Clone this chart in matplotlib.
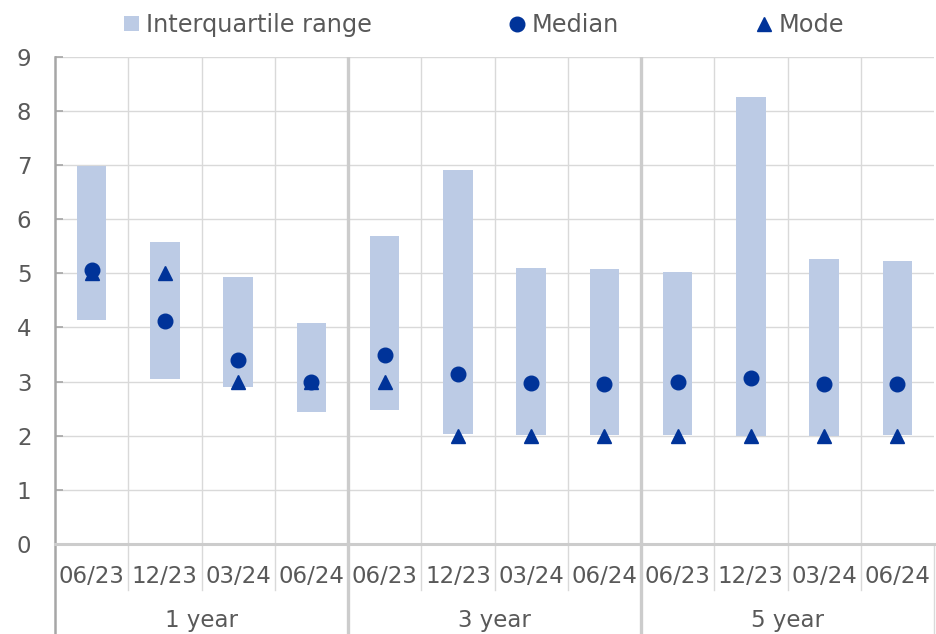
import matplotlib
matplotlib.use("Agg")
import matplotlib.pyplot as plt
import matplotlib.transforms as mtransforms
from matplotlib.lines import Line2D
import numpy as np

# ---- data ----
groups = ["1 year", "3 year", "5 year"]
periods = ["06/23", "12/23", "03/24", "06/24"]
categories = [p for g in groups for p in periods]
iqr_low = [4.14, 3.04, 2.90, 2.44, 2.47, 2.04, 2.02, 2.02, 2.02, 2.00, 2.00, 2.02]
iqr_high = [6.98, 5.58, 4.94, 4.08, 5.69, 6.91, 5.09, 5.07, 5.02, 8.26, 5.26, 5.22]
median = [5.06, 4.11, 3.40, 3.00, 3.49, 3.14, 2.97, 2.95, 3.00, 3.07, 2.95, 2.95]
mode = [5.0, 5.0, 3.0, 3.0, 3.0, 2.0, 2.0, 2.0, 2.0, 2.0, 2.0, 2.0]
y_ticks = list(range(0, 10))

# ---- style ----
bar_color = "#bccbe5"
mark_color = "#003399"
text_color = "#595959"
grid_color = "#d9d9d9"
sep_color = "#cccccc"
spine_color = "#a6a6a6"
fs = 16.5

plt.rcParams["font.family"] = ["DejaVu Sans"]

W, H = 936, 634
fig = plt.figure(figsize=(W / 100, H / 100), dpi=100)
ax = fig.add_axes([55 / W, 1 - 544 / H, (934 - 55) / W, (544 - 56.7) / H])

x = np.arange(len(categories))
heights = [h - l for l, h in zip(iqr_low, iqr_high)]
bars = ax.bar(x, heights, bottom=iqr_low, width=0.40, color=bar_color,
              zorder=2, label="Interquartile range")
med, = ax.plot(x, median, linestyle="none", marker="o", markersize=10.5,
               color=mark_color, zorder=4, label="Median")
mod, = ax.plot(x, mode, linestyle="none", marker="^", markersize=9.5,
               color=mark_color, zorder=3, label="Mode")

ax.set_xlim(-0.5, len(categories) - 0.5)
ax.set_ylim(0, 9)
ax.set_yticks(y_ticks)
ax.set_yticklabels([str(t) for t in y_ticks])
ax.set_xticks(x)
ax.set_xticklabels(categories)

# grid
for t in y_ticks[1:]:
    ax.axhline(t, color=grid_color, lw=1.0, zorder=1)
n_per = len(periods)
for i in range(1, len(categories)):
    if i % n_per == 0:
        ax.axvline(i - 0.5, color=sep_color, lw=2.4, zorder=1)
    else:
        ax.axvline(i - 0.5, color=grid_color, lw=1.0, zorder=1)

for s in ["top", "right"]:
    ax.spines[s].set_visible(False)
ax.spines["left"].set_color(spine_color)
ax.spines["left"].set_linewidth(1.8)
ax.spines["bottom"].set_color(sep_color)
ax.spines["bottom"].set_linewidth(2.2)

ax.tick_params(axis="y", direction="in", length=6, width=1.2, color=spine_color,
               labelsize=fs, labelcolor=text_color, pad=17)
ax.tick_params(axis="x", length=0, labelsize=fs, labelcolor=text_color, pad=15)

# separators below axis
trans = mtransforms.blended_transform_factory(ax.transData, ax.transAxes)
cat_drop = 46 / (544 - 56.7)
full_drop = (634 - 544) / (544 - 56.7)
last = len(categories)
for i in range(0, last + 1):
    xb = i - 0.5
    if i == 0:
        ax.add_line(Line2D([xb, xb], [0, -full_drop], transform=trans,
                           color=spine_color, lw=1.8, clip_on=False))
    elif i == last:
        ax.add_line(Line2D([xb, xb], [0, -full_drop], transform=trans,
                           color=grid_color, lw=1.0, clip_on=False))
    elif i % n_per == 0:
        ax.add_line(Line2D([xb, xb], [0, -full_drop], transform=trans,
                           color=sep_color, lw=2.4, clip_on=False))
    else:
        ax.add_line(Line2D([xb, xb], [0, -cat_drop], transform=trans,
                           color=grid_color, lw=1.0, clip_on=False))

for gi, g in enumerate(groups):
    xc = gi * n_per + (n_per - 1) / 2
    ax.text(xc, -76 / (544 - 56.7), g, transform=trans, ha="center", va="center",
            fontsize=fs, color=text_color)

fig.legend(handles=[bars, med, mod], labels=["Interquartile range", "Median", "Mode"],
           loc="center", bbox_to_anchor=(484 / W, 1 - 25 / H), ncol=3, frameon=False,
           fontsize=17.3, labelcolor=text_color, handlelength=0.6, handleheight=0.6,
           handletextpad=0.3, columnspacing=5.75, borderaxespad=0)

fig.savefig("out.png", dpi=100)
